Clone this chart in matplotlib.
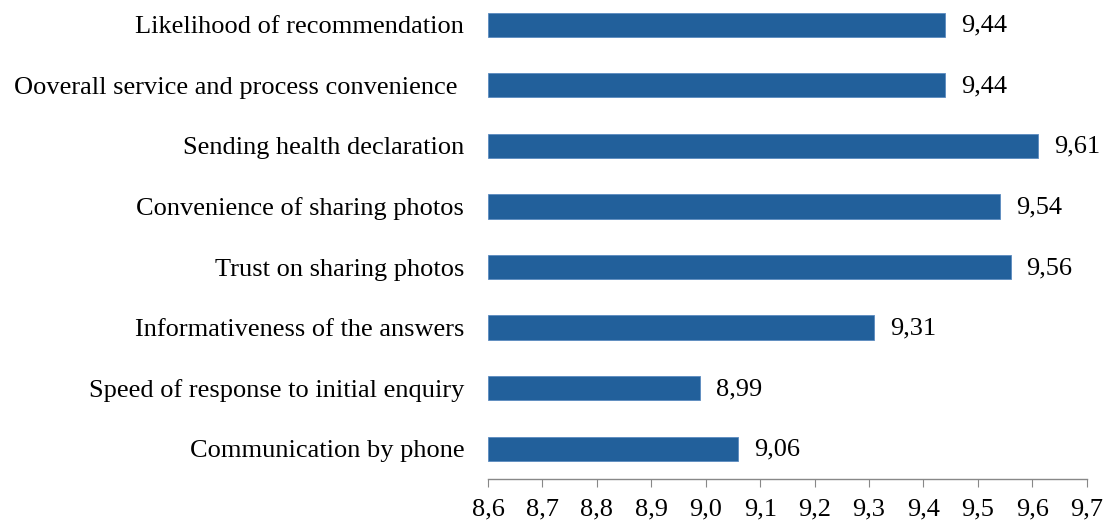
import matplotlib
matplotlib.use("Agg")
import matplotlib.pyplot as plt

# ---------------------------------------------------------------- data
categories = [
    "Communication by phone",
    "Speed of response to initial enquiry",
    "Informativeness of the answers",
    "Trust on sharing photos",
    "Convenience of sharing photos",
    "Sending health declaration",
    "Ooverall service and process convenience ",
    "Likelihood of recommendation",
]
scores = [9.06, 8.99, 9.31, 9.56, 9.54, 9.61, 9.44, 9.44]
xticks = [8.6, 8.7, 8.8, 8.9, 9.0, 9.1, 9.2, 9.3, 9.4, 9.5, 9.6, 9.7]

BAR_COLOR = "#22609B"
X_MIN = 8.6
FS = 19

plt.rcParams["font.family"] = ["Liberation Serif", "DejaVu Serif"]

fig = plt.figure(figsize=(11.09, 5.22), dpi=100)
ax = fig.add_axes([0.44, 0.0824, 0.54, 0.9176])

ypos = list(range(len(categories)))
widths = [s - X_MIN for s in scores]
ax.barh(ypos, widths, left=X_MIN, height=0.4, color=BAR_COLOR,
        edgecolor="#5b8ac0", linewidth=0.6)

# value labels to the right of each bar, comma decimal
for y, s in zip(ypos, scores):
    ax.annotate(f"{s:.2f}".replace(".", ","), xy=(s, y), xytext=(16, -1),
                textcoords="offset pixels",
                va="center", ha="left", fontsize=FS, color="black")

ax.set_xlim(8.6, 9.7)
ax.set_ylim(-0.5, 7.41)
ax.set_yticks(ypos)
ax.set_yticklabels(categories, fontsize=FS)
ax.set_xticks(xticks)
ax.set_xticklabels([f"{t:.1f}".replace(".", ",") for t in xticks], fontsize=FS)

for side in ["left", "top", "right"]:
    ax.spines[side].set_visible(False)
ax.spines["bottom"].set_color("#888888")
ax.spines["bottom"].set_linewidth(1.0)
ax.tick_params(axis="y", length=0, pad=17)
ax.tick_params(axis="x", direction="out", length=6, color="#888888", pad=8)

fig.savefig("out.png", dpi=100)
